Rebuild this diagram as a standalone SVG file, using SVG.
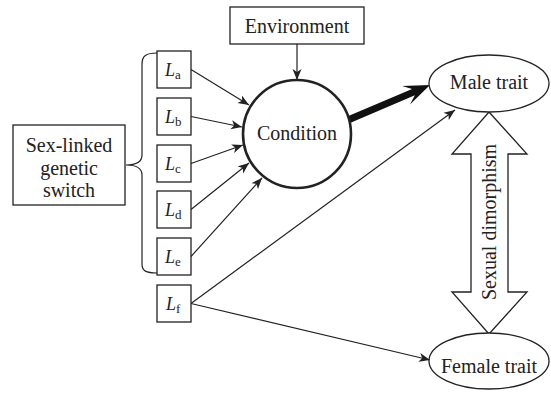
<svg xmlns="http://www.w3.org/2000/svg" width="551" height="400" viewBox="0 0 551 400">
<defs>
<style>
.box{fill:#fff;stroke:#222;stroke-width:1.3}
.t{font-family:"Liberation Serif","DejaVu Serif",serif;font-size:20px;fill:#222}
.c{text-anchor:middle}
.L{font-family:"Liberation Serif","DejaVu Serif",serif;font-size:18px;font-style:italic;fill:#222}
.sub{font-style:normal;font-size:13px}
.ln{stroke:#222;stroke-width:1.2;fill:none}
</style>
<marker id="ah" markerUnits="userSpaceOnUse" markerWidth="12" markerHeight="10" viewBox="0 0 12 10" refX="11" refY="5" orient="auto">
<path d="M0,0.5 L11,5 L0,9.5 L3,5 Z" fill="#222"/>
</marker>
</defs>
<rect width="551" height="400" fill="#fff"/>
<g id="connectors">
<line class="ln" x1="191" y1="69.5" x2="249" y2="105" marker-end="url(#ah)"/>
<line class="ln" x1="191" y1="116.5" x2="242" y2="127" marker-end="url(#ah)"/>
<line class="ln" x1="191" y1="163.5" x2="243" y2="145" marker-end="url(#ah)"/>
<line class="ln" x1="191" y1="209.5" x2="249" y2="163" marker-end="url(#ah)"/>
<line class="ln" x1="191" y1="256.5" x2="262" y2="178" marker-end="url(#ah)"/>
<line class="ln" x1="191" y1="303.5" x2="455" y2="110" marker-end="url(#ah)"/>
<line class="ln" x1="191" y1="303.5" x2="430" y2="360" marker-end="url(#ah)"/>
<line class="ln" x1="297" y1="44" x2="297" y2="80" marker-end="url(#ah)"/>
<path d="M157,53 C146,53 142,56 142,64 L142,155 C142,162 136,165 126,165 C136,165 142,168 142,175 L142,264 C142,271 146,273 157,273" class="ln" stroke-width="1.4"/>
<polygon points="346.6,116.8 412.1,88.9 402.2,86 430,85 410,104.4 414.9,95.3 349.4,123.2" fill="#111"/>
<polygon points="489,112 527,154 508,154 508,292 527,292 489,334 452,292 471,292 471,154 452,154" fill="#fff" stroke="#222" stroke-width="1.3"/>
<text class="t c" transform="translate(496,222) rotate(-90)">Sexual dimorphism</text>
</g>
<g id="switch">
<rect class="box" x="13" y="125" width="112" height="80"/>
<text class="t c" x="69" y="152">Sex-linked</text>
<text class="t c" x="69" y="175">genetic</text>
<text class="t c" x="69" y="197">switch</text>
</g>
<g id="La"><rect class="box" x="157" y="51" width="34" height="37"/><text class="L" x="165" y="76">L<tspan class="sub" dy="3">a</tspan></text></g>
<g id="Lb"><rect class="box" x="157" y="98" width="34" height="37"/><text class="L" x="165" y="123">L<tspan class="sub" dy="3">b</tspan></text></g>
<g id="Lc"><rect class="box" x="157" y="145" width="34" height="37"/><text class="L" x="165" y="170">L<tspan class="sub" dy="3">c</tspan></text></g>
<g id="Ld"><rect class="box" x="157" y="191" width="34" height="37"/><text class="L" x="165" y="216">L<tspan class="sub" dy="3">d</tspan></text></g>
<g id="Le"><rect class="box" x="157" y="238" width="34" height="37"/><text class="L" x="165" y="263">L<tspan class="sub" dy="3">e</tspan></text></g>
<g id="Lf"><rect class="box" x="157" y="285" width="34" height="37"/><text class="L" x="166" y="310">L<tspan class="sub" dy="3">f</tspan></text></g>
<g id="environment">
<rect class="box" x="230" y="7" width="134" height="37"/>
<text class="t c" x="297" y="33">Environment</text>
</g>
<g id="condition">
<circle cx="297" cy="134" r="54" fill="#fff" stroke="#222" stroke-width="2.6"/>
<text class="t c" x="297" y="140">Condition</text>
</g>
<g id="male">
<ellipse cx="489" cy="83.5" rx="60" ry="28.5" fill="#fff" stroke="#222" stroke-width="1.3"/>
<text class="t c" x="489" y="89">Male trait</text>
</g>
<g id="female">
<ellipse cx="489" cy="361" rx="60" ry="28" fill="#fff" stroke="#222" stroke-width="1.3"/>
<text class="t c" x="489" y="373">Female trait</text>
</g>
</svg>
